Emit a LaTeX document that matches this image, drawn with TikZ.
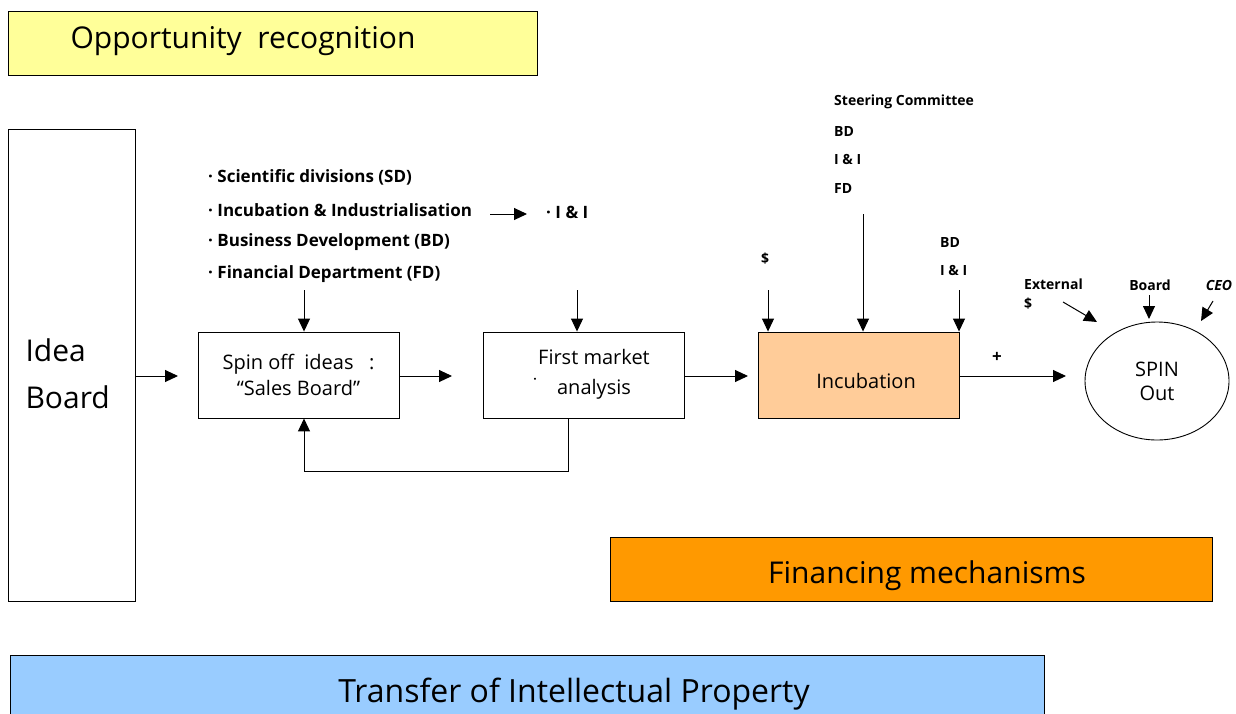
\documentclass[tikz,border=0pt]{standalone}
\usepackage{fontspec}
\setmainfont{Open Sans}
\usetikzlibrary{arrows.meta,shapes.geometric}
\definecolor{ylw}{HTML}{FFFF99}
\definecolor{peach}{HTML}{FFCC99}
\definecolor{orng}{HTML}{FF9900}
\definecolor{lblue}{HTML}{99CCFF}
\tikzset{
  box/.style={draw=black, line width=0.9pt, minimum height=86pt, minimum width=201pt, inner sep=0pt, align=center, font=\fontsize{20}{26}\selectfont},
  lbl/.style={font=\bfseries\fontsize{14}{16}\selectfont, inner sep=0pt, anchor=west},
  blt/.style={font=\bfseries\fontsize{17}{18}\selectfont, inner sep=0pt, anchor=west},
  big/.style={font=\fontsize{30}{34}\selectfont},
  arr/.style={draw=black, line width=1pt, -{Triangle[length=13pt,width=12pt]}},
  band/.style={draw=black, line width=0.9pt, inner sep=0pt}
}
\begin{document}
\begin{tikzpicture}[x=1pt,y=-1pt]
\useasboundingbox (0,0) rectangle (1236,713);
% bands
\node[band, fill=ylw, minimum width=529pt, minimum height=64pt, anchor=north west] (opp) at (8,11) {};
\node[big] (opptxt) at (243,41) {Opportunity\ \ recognition};
\node[band, fill=orng, minimum width=602pt, minimum height=64pt, anchor=north west] (fin) at (610,537) {};
\node[big] (fintxt) at (927,576) {Financing mechanisms};
\node[band, fill=lblue, minimum width=1034pt, minimum height=70pt, anchor=north west] (tip) at (10,655) {};
\node[big, font=\fontsize{32}{34}\selectfont] (tiptxt) at (574,694) {Transfer of Intellectual Property};
% idea board
\node[band, fill=white, minimum width=127pt, minimum height=472pt, anchor=north west] (idea) at (8,129) {};
\node[font=\fontsize{30}{47}\selectfont, align=left, anchor=west] (ideatxt) at (22,374) {Idea\\Board};
% process boxes
\node[box] (spin) at (298.5,375) {Spin off\ \ ideas\ \ \ :\\``Sales Board''};
\node[box] (fma) at (584,375) {};
\node[font=\fontsize{20}{30}\selectfont, align=center, inner sep=0pt] (fmatxt) at (594,374) {First market\\analysis};
\node[font=\bfseries\fontsize{12}{12}\selectfont, inner sep=0pt] (fmadot) at (535,381) {·};
\node[box, fill=peach] (inc) at (858.5,375) {};
\node[font=\fontsize{20}{26}\selectfont, inner sep=0pt] (inctxt) at (866,381) {Incubation};
\node[draw=black, line width=0.9pt, ellipse, minimum width=144pt, minimum height=118pt, inner sep=0pt, align=center, font=\fontsize{20}{24}\selectfont] (spinout) at (1157,381) {SPIN\\Out};
% bullet list
\node[blt] (sd) at (208,177) {·\ Scientific divisions (SD)};
\node[blt] (ii) at (208,210) {·\ Incubation \&\ Industrialisation};
\node[blt] (bd) at (208,242) {·\ Business Development (BD)};
\node[blt] (fd) at (208,274) {·\ Financial Department (FD)};
\node[blt] (iishort) at (546,212) {·\ I \& I};
\coordinate (iiA) at (490,214);
\coordinate (iiB) at (527,214);
\draw[arr] (iiA) -- (iiB);
% steering committee
\node[lbl] (sc) at (834,102) {Steering Committee};
\node[lbl] (scbd) at (834,131) {BD};
\node[lbl] (scii) at (834,159) {I \& I};
\node[lbl] (scfd) at (834,188) {FD};
\node[lbl] (dollar) at (761,259) {\$};
\node[lbl] (bd2) at (940,242) {BD};
\node[lbl] (ii2) at (940,270) {I \& I};
\node[lbl, align=left, font=\bfseries\fontsize{14}{19}\selectfont] (ext) at (1024,294) {External\\\$};
\node[lbl, anchor=center] (board) at (1150,285) {Board};
\node[lbl, anchor=center, font=\bfseries\itshape\fontsize{14}{16}\selectfont] (ceo) at (1219,285) {CEO};
\node[font=\bfseries\fontsize{17}{18}\selectfont] (plus) at (997,357) {+};
% arrow start coordinates
\coordinate (a1) at (135,376);
\coordinate (a1e) at (178,376);
\coordinate (s1) at (304,290);
\coordinate (f1) at (577,290);
\coordinate (d1) at (768,290);
\coordinate (sc1) at (863,214);
\coordinate (b1) at (959,290);
\coordinate (spR) at (399,376);
\coordinate (spRe) at (452,376);
\coordinate (fmR) at (685,376);
\coordinate (fmRe) at (748,376);
\coordinate (inR) at (959,376);
\coordinate (inRe) at (1066,376);
\coordinate (e1) at (1063,302);
\coordinate (e2) at (1097,322);
\coordinate (bo1) at (1149,295);
\coordinate (bo2) at (1149,319);
\coordinate (c1) at (1213,301);
\coordinate (c2) at (1201,321);
% arrows
\draw[arr] (a1) -- (a1e);
\draw[arr] (s1) -- (spin.north -| s1);
\draw[arr] (f1) -- (fma.north -| f1);
\draw[arr] (d1) -- (inc.north -| d1);
\draw[arr] (sc1) -- (inc.north -| sc1);
\draw[arr] (b1) -- (inc.north -| b1);
\draw[arr] (spR) -- (spRe);
\draw[arr] (fmR) -- (fmRe);
\draw[arr] (inR) -- (inRe);
\draw[arr] (e1) -- (e2);
\draw[arr] (bo1) -- (bo2);
\draw[arr] (c1) -- (c2);
\draw[arr] (fma.south -| 568,0) -- (568,471) -- (304,471) -- (spin.south -| 304,0);
\end{tikzpicture}
\end{document}
